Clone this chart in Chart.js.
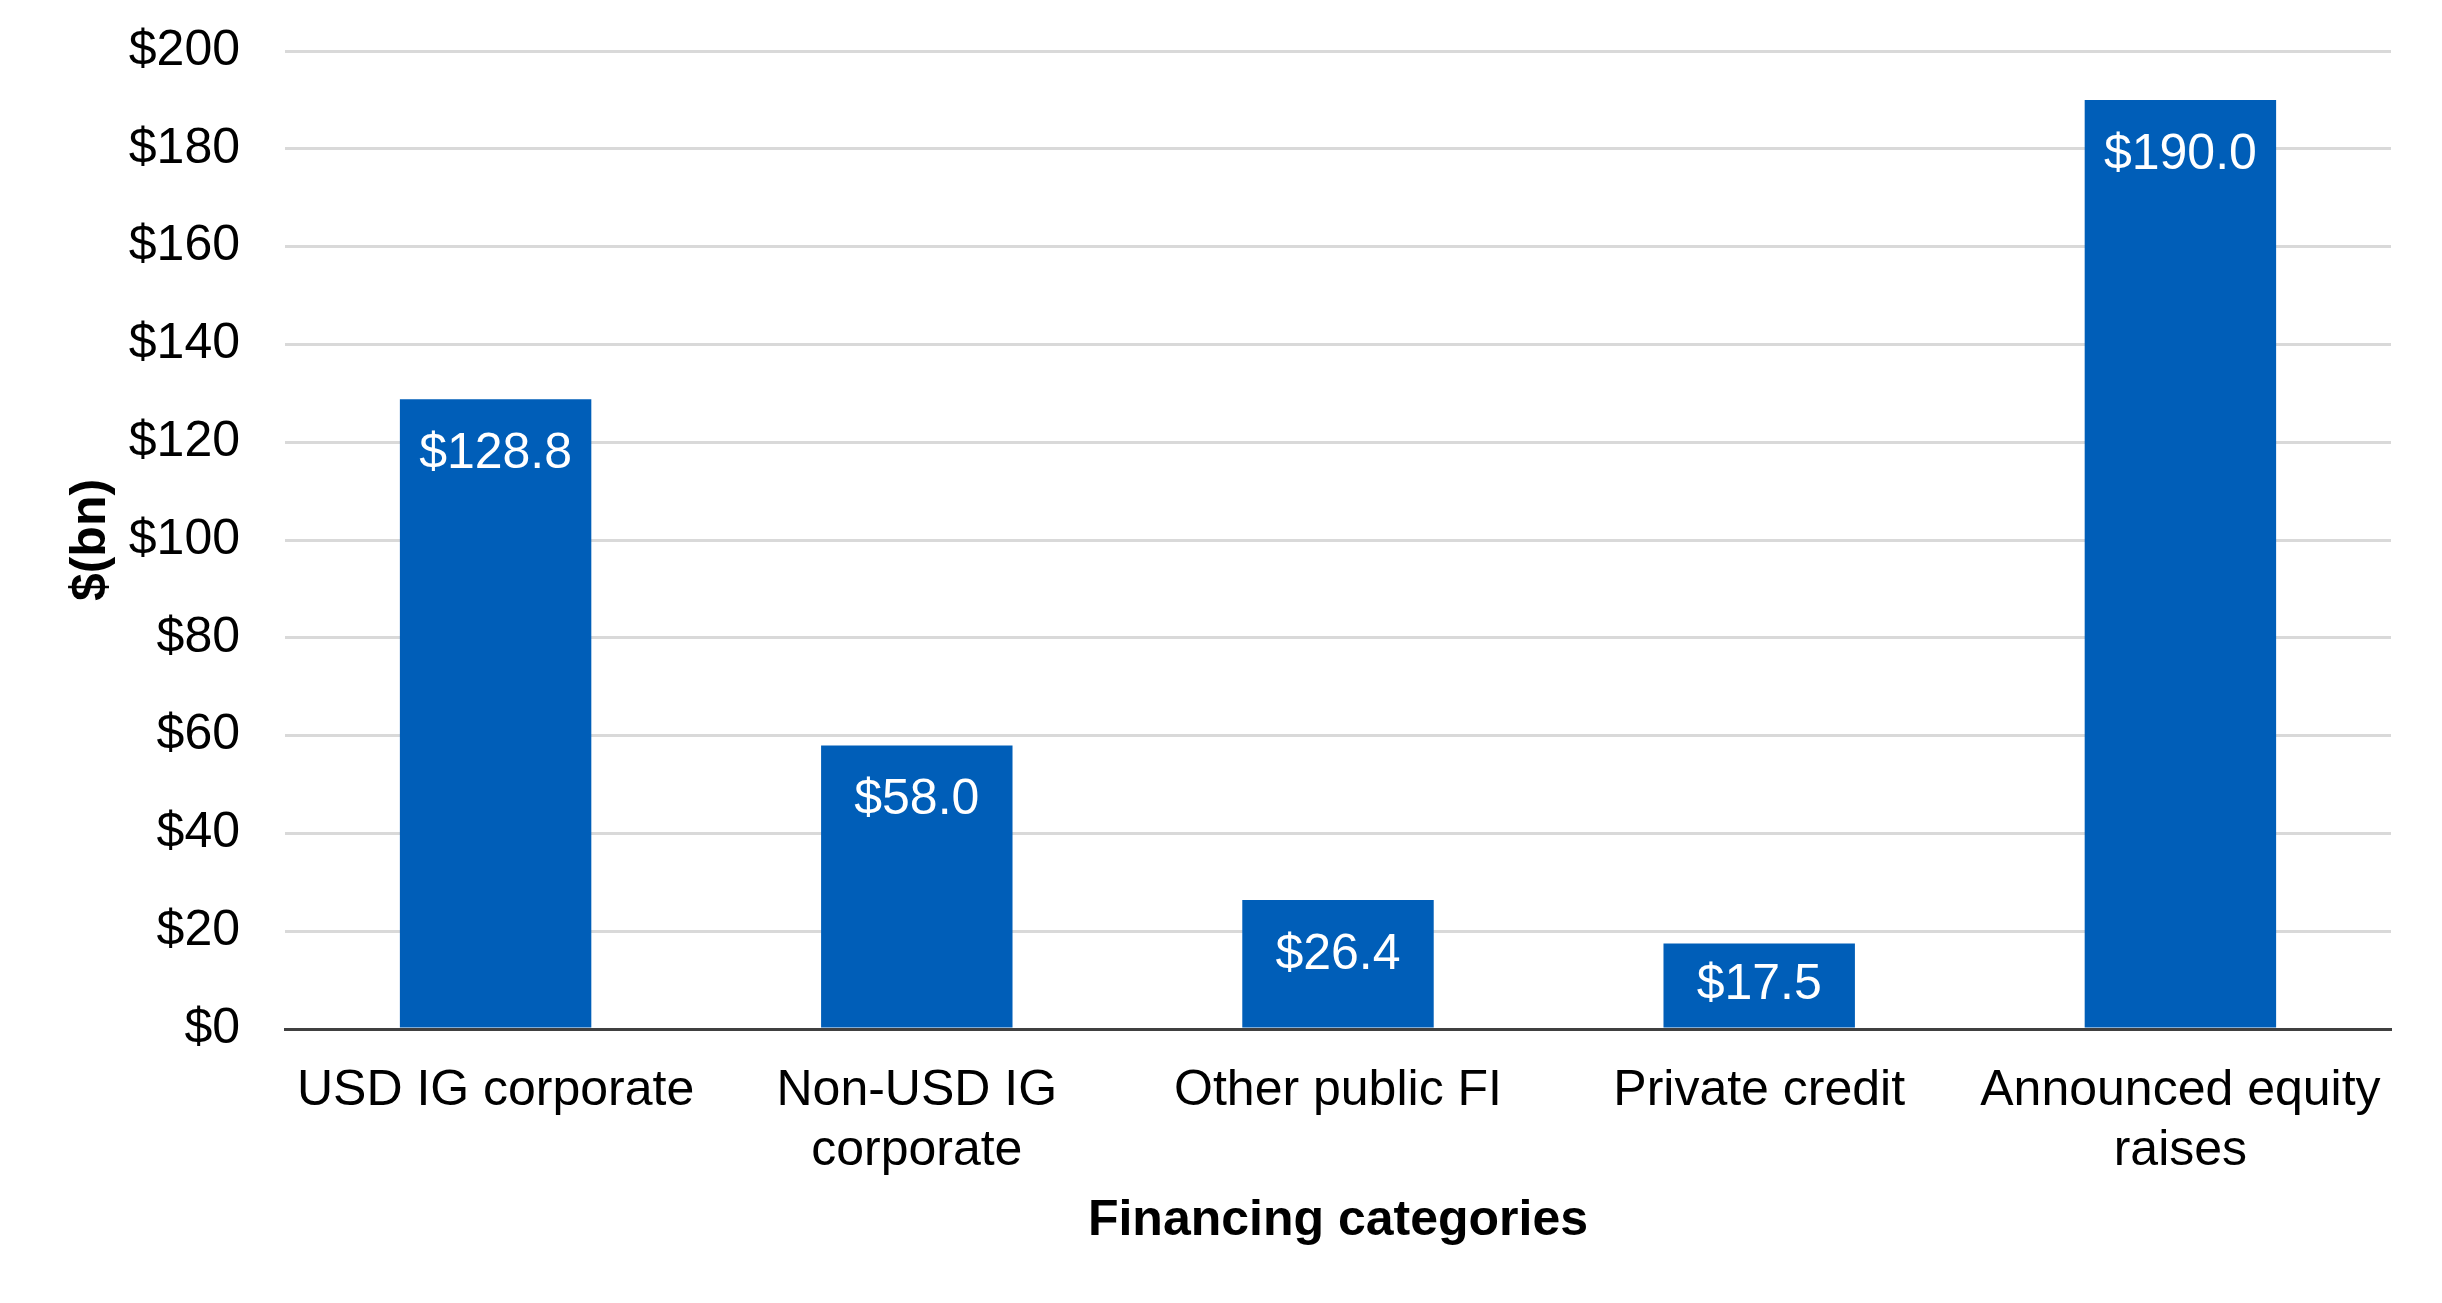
<!DOCTYPE html>
<html>
<head>
<meta charset="utf-8">
<script src="https://cdn.jsdelivr.net/npm/chart.js@4/dist/chart.umd.min.js"></script>
<style>
html,body{margin:0;padding:0;background:#fff;}
#wrap{width:2442px;height:1303px;}
</style>
</head>
<body>
<div id="wrap"><canvas id="c" width="2442" height="1303"></canvas></div>
<script>
const categories = [
  "USD IG corporate",
  ["Non-USD IG", "corporate"],
  "Other public FI",
  "Private credit",
  ["Announced equity", "raises"]
];
const values = [128.8, 58.0, 26.4, 17.5, 190.0];
const yTicks = [0, 20, 40, 60, 80, 100, 120, 140, 160, 180, 200];
const xTitle = "Financing categories";
const yTitle = "$(bn)";

const FONT = "'Liberation Sans', Arial, sans-serif";
const FS = 50;

const labelPlugin = {
  id: 'barLabels',
  afterDatasetsDraw(chart) {
    const ctx = chart.ctx;
    const meta = chart.getDatasetMeta(0);
    ctx.save();
    ctx.font = FS + "px " + FONT;
    ctx.fillStyle = "#ffffff";
    ctx.textAlign = "center";
    ctx.textBaseline = "middle";
    meta.data.forEach((bar, i) => {
      const h = bar.base - bar.y;
      const off = Math.min(55, h * 0.42 + 6);
      ctx.fillText("$" + values[i].toFixed(1), bar.x, bar.y + off);
    });
    ctx.restore();
  }
};

new Chart(document.getElementById('c'), {
  type: 'bar',
  data: {
    labels: categories,
    datasets: [{
      data: values,
      backgroundColor: '#005EB8',
      borderWidth: 0,
      barPercentage: 0.4545,
      categoryPercentage: 1.0
    }]
  },
  options: {
    responsive: false,
    animation: false,
    devicePixelRatio: 1,
    layout: { padding: { left: 0, right: 51, top: 51, bottom: 0 } },
    plugins: { legend: { display: false }, tooltip: { enabled: false } },
    scales: {
      x: {
        grid: { display: false, drawTicks: false },
        border: { display: true, color: '#404040', width: 3 },
        ticks: {
          color: '#000',
          font: { family: FONT, size: FS },
          padding: 32,
          maxRotation: 0,
          autoSkip: false
        },
        title: {
          display: true,
          text: xTitle,
          color: '#000',
          font: { family: FONT, size: FS, weight: 'bold' },
          padding: { top: 0, bottom: 52 }
        },
        afterFit(scale) { scale.height = 274; scale.paddingLeft = 0; scale.paddingRight = 0; }
      },
      y: {
        min: 0,
        max: 200,
        afterBuildTicks(scale) { scale.ticks = yTicks.map(v => ({ value: v })); },
        grid: { color: '#d9d9d9', lineWidth: 3, drawTicks: false },
        border: { display: false },
        ticks: {
          color: '#000',
          font: { family: FONT, size: FS },
          padding: 45,
          callback: (v) => '$' + v
        },
        title: {
          display: true,
          text: yTitle,
          color: '#000',
          font: { family: FONT, size: FS, weight: 'bold' },
          padding: { top: 61, bottom: 0 }
        },
        afterFit(scale) { scale.width = 285; scale.paddingTop = 0; scale.paddingBottom = 0; }
      }
    }
  },
  plugins: [labelPlugin]
});
</script>
</body>
</html>
